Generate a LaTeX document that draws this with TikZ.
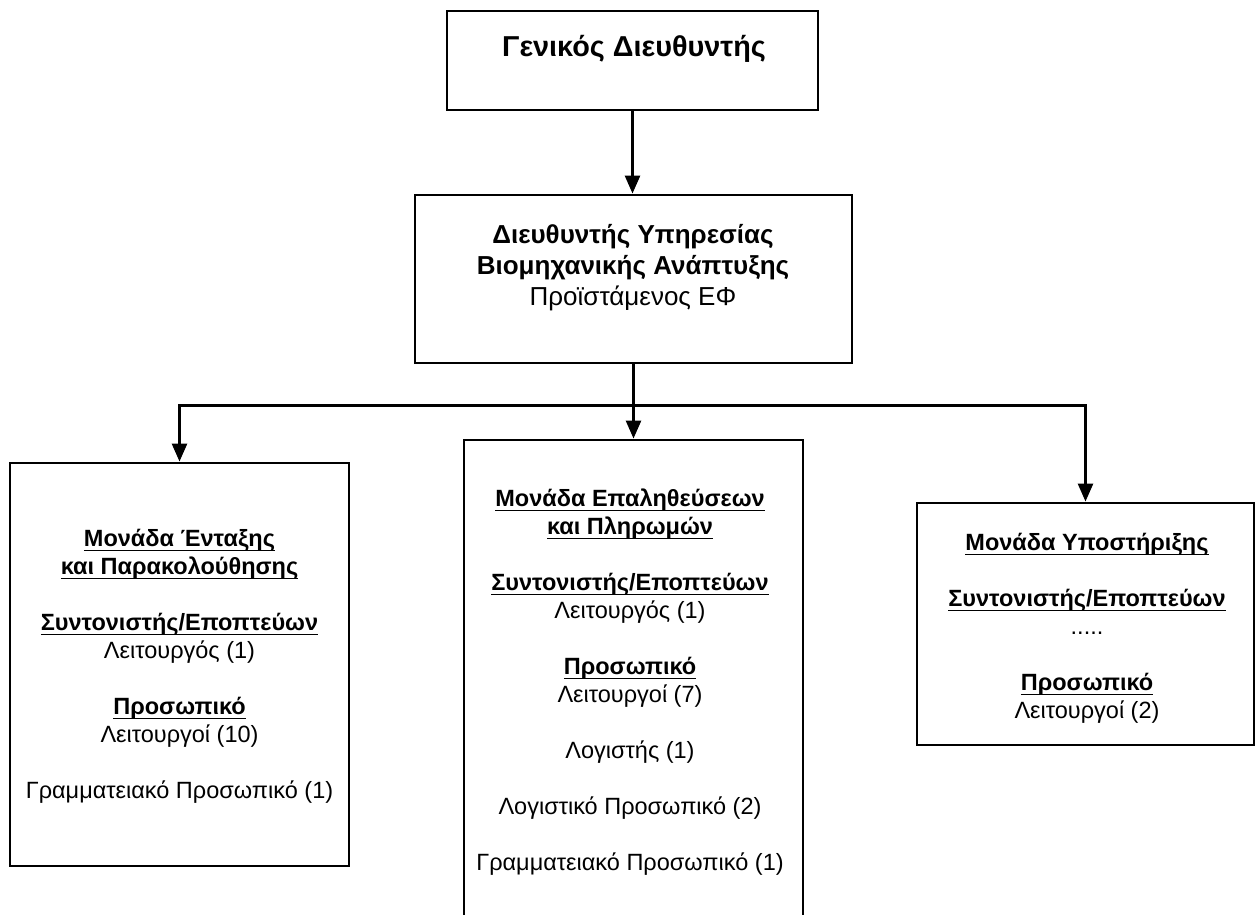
\documentclass[tikz,border=0pt]{standalone}
\usepackage{fontspec}
\setmainfont{Liberation Sans}
\usetikzlibrary{arrows.meta}

% underline at a fixed depth below the baseline
\newcommand\undl[1]{\setbox0=\hbox{#1}\leavevmode\rlap{\rule[-5.2pt]{\wd0}{1.8pt}}\box0}
% bold and underlined heading
\newcommand\hd[1]{\undl{\textbf{#1}}}
% fixed height for the first line of a text block
\newcommand\firstln{\rule{0pt}{18pt}}

\begin{document}
\begin{tikzpicture}[x=1pt,y=-1pt,
  box/.style={draw, line width=2.9pt, inner sep=0pt},
  txt/.style={align=center, inner sep=0pt, font=\fontsize{23.5}{28}\selectfont},
  arr/.style={line width=2.7pt, -{Triangle[length=18pt,width=15pt]}}]

\useasboundingbox (0,0) rectangle (1255,915);
\clip (0,0) rectangle (1255,915);

% boxes
\node[box, minimum width=371pt, minimum height=99pt]  (gd)    at (632.5,60.5) {};
\node[box, minimum width=437pt, minimum height=168pt] (dir)   at (633.5,279)  {};
\node[box, minimum width=339pt, minimum height=403pt] (left)  at (179.5,664.5) {};
\node[box, minimum width=339pt, minimum height=520pt] (mid)   at (633.5,700)  {};
\node[box, minimum width=337pt, minimum height=242pt] (right) at (1085.5,624)  {};

% texts
\node[txt, font=\fontsize{28.8}{33}\selectfont\bfseries, anchor=base] (gdt) at (634,57)
  {Γενικός Διευθυντής};

\node[txt, font=\fontsize{26}{31}\selectfont, anchor=north] (dirt) at (633,224)
  {\firstln\textbf{Διευθυντής Υπηρεσίας}\\
   \textbf{Βιομηχανικής Ανάπτυξης}\\
   Προϊστάμενος ΕΦ};

\node[txt, anchor=north] (leftt) at (179.5,528)
  {\firstln\hd{Μονάδα Ένταξης}\\
   \hd{και Παρακολούθησης}\\[28pt]
   \hd{Συντονιστής/Εποπτεύων}\\
   Λειτουργός (1)\\[28pt]
   \hd{Προσωπικό}\\
   Λειτουργοί (10)\\[28pt]
   Γραμματειακό Προσωπικό (1)};

\node[txt, anchor=north] (midt) at (630,488)
  {\firstln\hd{Μονάδα Επαληθεύσεων}\\
   \hd{και Πληρωμών}\\[28pt]
   \hd{Συντονιστής/Εποπτεύων}\\
   Λειτουργός (1)\\[28pt]
   \hd{Προσωπικό}\\
   Λειτουργοί (7)\\[28pt]
   Λογιστής (1)\\[28pt]
   Λογιστικό Προσωπικό (2)\\[28pt]
   Γραμματειακό Προσωπικό (1)};

\node[txt, anchor=north] (rightt) at (1087,532)
  {\firstln\hd{Μονάδα Υποστήριξης}\\[28pt]
   \hd{Συντονιστής/Εποπτεύων}\\
   .....\\[28pt]
   \hd{Προσωπικό}\\
   Λειτουργοί (2)};

% connectors
\draw[arr] (gd.south) -- (gd.south |- dir.north);
\path (dir.south) ++(0,41) coordinate (bar);
\draw[arr] (dir.south) -- (dir.south |- mid.north);
\draw[arr] (bar) -| (left.north);
\draw[arr] (bar) -| (right.north);
\end{tikzpicture}
\end{document}
